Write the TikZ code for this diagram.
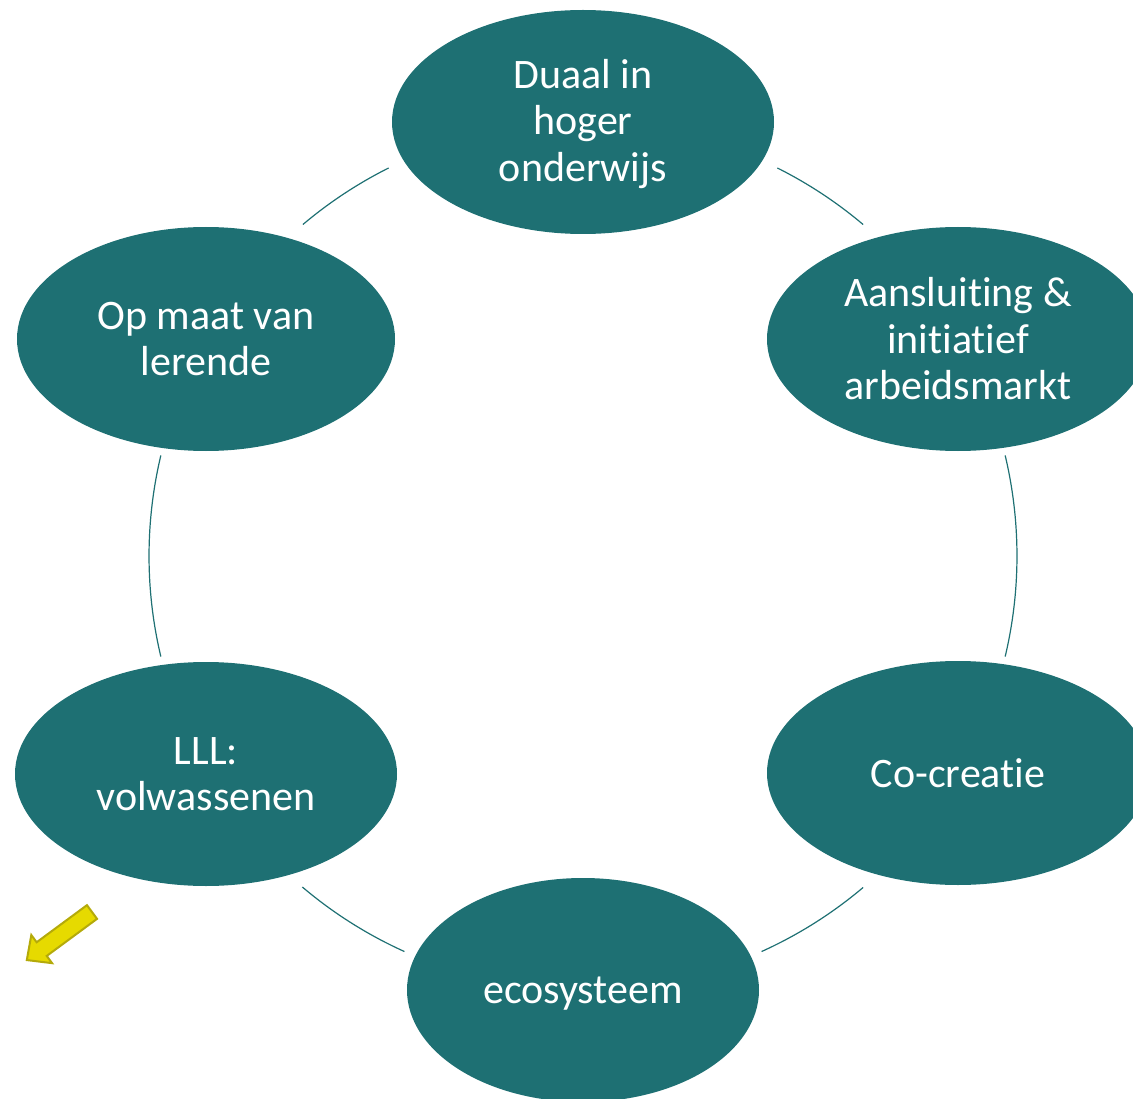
\documentclass[tikz,border=0pt]{standalone}
\usepackage{fontspec}
\setmainfont{Carlito}[Ligatures=NoCommon]
\usetikzlibrary{shapes.geometric}
\definecolor{tealfill}{RGB}{30,112,115}
\definecolor{arrowfill}{RGB}{230,218,0}
\definecolor{arrowedge}{RGB}{180,170,10}
\tikzset{
  blob/.style={ellipse, fill=tealfill, draw=none, inner sep=0pt,
    minimum width=382pt, minimum height=224pt},
  txt/.style={align=center, inner sep=0pt, text=white,
    font=\fontsize{42}{46.5}\selectfont},
  conn/.style={draw=tealfill, line width=1.2pt},
  yarrow/.style={fill=arrowfill, draw=arrowedge, line width=2pt, line join=miter}
}
\begin{document}
\begin{tikzpicture}[x=1pt,y=1pt]
\useasboundingbox (0,0) rectangle (1133,-1099);
\clip (0,0) rectangle (1133,-1099);
\coordinate (O) at (583,-556);
\node[blob] (top) at (583,-122) {};
\node[blob] (tr) at (958,-339) {};
\node[blob] (br) at (958,-773) {};
\node[blob, minimum width=352pt] (bot) at (583,-990) {};
\node[blob] (bl) at (206,-774) {};
\node[blob, minimum width=378pt] (tl) at (206,-339) {};
\node[txt] (top-t) at ([yshift=-2pt]top.center) {Duaal in\\hoger\\onderwijs};
\node[txt] (tr-t) at ([yshift=0pt]tr.center) {Aansluiting \&\\initiatief\\arbeidsmarkt};
\node[txt] (br-t) at ([yshift=0pt]br.center) {Co-creatie};
\node[txt] (bot-t) at ([yshift=-4pt]bot.center) {ecosysteem};
\node[txt] (bl-t) at ([yshift=0pt]bl.center) {LLL:\\volwassenen};
\node[txt] (tl-t) at ([yshift=0pt]tl.center) {Op maat van\\lerende};
% connectors: arcs of the circle through the node centres
\coordinate (a1) at ([shift={(116.6:434)}]O);
\coordinate (a2) at ([shift={(49.8:434)}]O);
\coordinate (a3) at ([shift={(-13.4:434)}]O);
\coordinate (a4) at ([shift={(166.6:434)}]O);
\coordinate (a5) at ([shift={(-130.3:434)}]O);
\coordinate (a6) at ([shift={(-65.7:434)}]O);
\draw[conn] (a1) arc[start angle=116.6, end angle=130.2, radius=434];
\draw[conn] (a2) arc[start angle=49.8, end angle=63.4, radius=434];
\draw[conn] (a3) arc[start angle=-13.4, end angle=13.4, radius=434];
\draw[conn] (a4) arc[start angle=166.6, end angle=193.4, radius=434];
\draw[conn] (a5) arc[start angle=-130.3, end angle=-114.3, radius=434];
\draw[conn] (a6) arc[start angle=-65.7, end angle=-49.8, radius=434];
% yellow block arrow
\begin{scope}[shift={(92,-912)}, rotate=216.4]
\draw[yarrow] (0,-8.5) -- (62.5,-8.5) -- (62.5,-17.5) -- (81,0) -- (62.5,17.5) -- (62.5,8.5) -- (0,8.5) -- cycle;
\end{scope}
\end{tikzpicture}
\end{document}
